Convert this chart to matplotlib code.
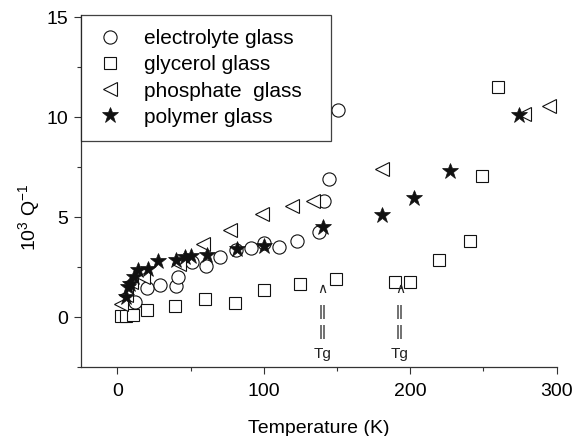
import matplotlib
matplotlib.use("Agg")
import matplotlib.pyplot as plt
from matplotlib.ticker import MultipleLocator

plt.rcParams['font.family'] = ['Liberation Sans', 'DejaVu Sans']
plt.rcParams['mathtext.fontset'] = 'custom'
plt.rcParams['mathtext.rm'] = 'Liberation Sans'

electrolyte_T = [12, 20.6, 29, 40, 41.5, 51, 60.4, 70.4, 81, 91, 100, 110.7, 123, 137.6, 141, 144.3, 151]
electrolyte_Q = [0.75, 1.47, 1.63, 1.58, 2.0, 2.75, 2.58, 3.03, 3.37, 3.47, 3.7, 3.5, 3.83, 4.25, 5.83, 6.92, 10.33]

glycerol_T = [2.5, 6, 10.4, 20, 39.3, 60, 80.3, 100, 124.4, 149, 189.6, 199.5, 219.4, 240.5, 249, 260]
glycerol_Q = [0.08, 0.08, 0.13, 0.37, 0.58, 0.92, 0.72, 1.37, 1.67, 1.92, 1.75, 1.75, 2.87, 3.8, 7.05, 11.5]

phosphate_T = [2.5, 6, 9.5, 17.4, 42, 58.5, 77, 99, 119.4, 133.8, 181, 277.4, 294.8]
phosphate_Q = [0.67, 1.1, 1.75, 2.03, 2.67, 3.67, 4.37, 5.17, 5.55, 5.83, 7.42, 10.13, 10.53]

polymer_T = [6.2, 7.5, 8.7, 11.2, 14.4, 21, 27.9, 40, 46, 50.2, 61, 81.6, 100, 140.5, 181, 202.7, 227, 274]
polymer_Q = [1.0, 1.5, 1.67, 2.0, 2.37, 2.42, 2.83, 2.87, 3.0, 3.08, 3.13, 3.42, 3.58, 4.53, 5.12, 5.95, 7.33, 10.08]

tg_positions = [140, 193]

fig = plt.figure(figsize=(5.72, 4.36), dpi=100)
ax = fig.add_axes([0.1416, 0.1576, 0.8317, 0.808])

ax.plot(electrolyte_T, electrolyte_Q, 'o', ms=9.5, mfc='white', mec='#111111', mew=0.8,
        label='electrolyte glass', zorder=3)
ax.plot(glycerol_T, glycerol_Q, 's', ms=9, mfc='white', mec='#111111', mew=0.8,
        label='glycerol glass', zorder=3)
ax.plot(phosphate_T, phosphate_Q, '<', ms=10, mfc='white', mec='#111111', mew=0.8,
        label='phosphate  glass', zorder=3)
ax.plot(polymer_T, polymer_Q, '*', ms=12, mfc='#111111', mec='#111111', mew=0.5,
        label='polymer glass', zorder=4)

for t in tg_positions:
    ax.text(t, 1.4, '\u2227', ha='center', va='center', fontsize=10,
            family=['DejaVu Sans'], color='#222222')
    ax.text(t, 0.25, '||', ha='center', va='center', fontsize=11, color='#222222')
    ax.text(t, -0.75, '||', ha='center', va='center', fontsize=11, color='#222222')
    ax.text(t, -1.85, 'Tg', ha='center', va='center', fontsize=11, color='#222222')

ax.set_xlim(-24.8, 300)
ax.set_ylim(-2.5, 15.1)
ax.xaxis.set_major_locator(MultipleLocator(100))
ax.xaxis.set_minor_locator(MultipleLocator(50))
ax.yaxis.set_major_locator(MultipleLocator(5))
ax.yaxis.set_minor_locator(MultipleLocator(2.5))
ax.tick_params(which='both', direction='out', labelsize=14, width=0.8, color='#333333')
ax.tick_params(which='major', length=5)
ax.tick_params(which='minor', length=3)
ax.tick_params(axis='y', pad=4)
ax.tick_params(axis='x', pad=6)
ax.spines['top'].set_visible(False)
ax.spines['right'].set_visible(False)
for s in ('left', 'bottom'):
    ax.spines[s].set_linewidth(0.9)
    ax.spines[s].set_color('#333333')

ax.set_xlabel('Temperature (K)', fontsize=14)
ax.xaxis.set_label_coords(0.5, -0.15)
ax.set_ylabel(r'10$^{3}$ Q$^{-1}$', fontsize=14)
ax.yaxis.set_label_coords(-0.08, 0.427)

leg = ax.legend(loc='upper left', bbox_to_anchor=(0.0, 0.0, 0.525, 1.0), mode='expand',
                fontsize=15, frameon=True, fancybox=False, edgecolor='#111111',
                borderpad=0.69, handlelength=1.4, handletextpad=0.94,
                labelspacing=0.34, borderaxespad=0.0)
leg.get_frame().set_linewidth(0.9)

fig.savefig('out.png', dpi=100)
